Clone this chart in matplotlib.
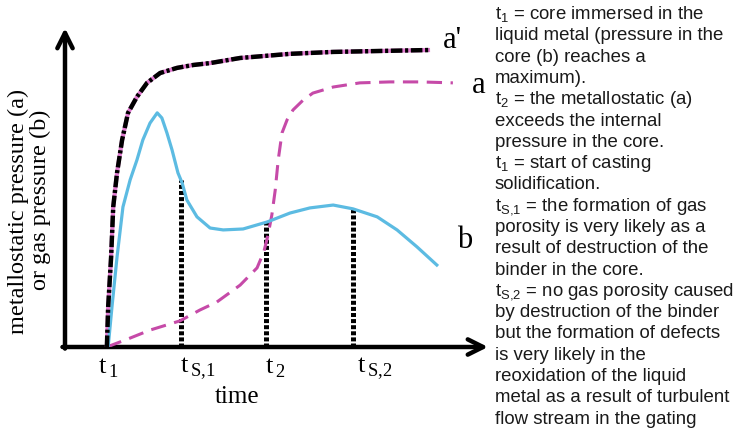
import matplotlib
matplotlib.use("Agg")
import matplotlib.pyplot as plt
import numpy as np

# ---- curve data (time, pressure) in arbitrary units ----
# a' : metallostatic pressure, reference curve
ap_t = [0.99, 1.02, 1.09, 1.14, 1.23, 1.35, 1.49, 1.70, 1.94, 2.25, 2.65,
        3.03, 3.43, 4.14, 5.32, 6.34, 7.45, 8.63]
ap_p = [0.00, 1.25, 2.82, 4.39, 5.46, 6.49, 7.34, 7.84, 8.28, 8.59, 8.75,
        8.84, 8.90, 9.06, 9.19, 9.25, 9.28, 9.31]

# a : metallostatic pressure
a_t = [0.99, 1.54, 2.01, 2.72, 3.19, 3.59, 4.14, 4.54, 4.70, 4.80, 4.89,
       4.97, 5.04, 5.13, 5.25, 5.39, 5.63, 5.86, 6.34, 6.97, 7.68, 8.39,
       9.17]
a_p = [0.00, 0.28, 0.53, 0.82, 1.16, 1.41, 1.94, 2.48, 2.98, 3.51, 4.14,
       4.92, 5.86, 6.71, 7.12, 7.43, 7.74, 7.96, 8.15, 8.28, 8.31, 8.31,
       8.28]

# b : gas pressure in the core
b_t = [1.02, 1.11, 1.23, 1.37, 1.54, 1.70, 1.84, 2.01, 2.18, 2.29, 2.41,
       2.53, 2.67, 2.77, 2.88, 3.12, 3.43, 3.74, 4.21, 4.78, 5.32, 5.79,
       6.34, 6.81, 7.38, 7.85, 8.32, 8.79]
b_p = [0.00, 1.25, 2.82, 4.39, 5.24, 5.86, 6.49, 7.02, 7.34, 7.18, 6.71,
       6.18, 5.46, 5.14, 4.61, 4.08, 3.73, 3.67, 3.70, 3.92, 4.20, 4.36,
       4.45, 4.33, 4.08, 3.67, 3.14, 2.57]

# characteristic instants on the time axis
mark_t = [1.00, 2.74, 4.75, 6.81]
mark_labels = [r"$\mathregular{t}_{\mathregular{\,1}}$",
               r"$\mathregular{t}_{\mathregular{\,S{,}1}}$",
               r"$\mathregular{t}_{\mathregular{\,2}}$",
               r"$\mathregular{t}_{\mathregular{\,S{,}2}}$"]
# which instants get a dotted drop line
drop_t = [2.74, 4.75, 6.81]

curve_labels = ["a'", "a", "b"]

notes = [
    r"$\mathregular{t_1}$ = core immersed in the",
    "liquid metal (pressure in the",
    "core (b) reaches a",
    "maximum).",
    r"$\mathregular{t_2}$ = the metallostatic (a)",
    "exceeds the internal",
    "pressure in the core.",
    r"$\mathregular{t_1}$ = start of casting",
    "solidification.",
    r"$\mathregular{t_{S{,}1}}$ = the formation of gas",
    "porosity is very likely as a",
    "result of destruction of the",
    "binder in the core.",
    r"$\mathregular{t_{S{,}2}}$ = no gas porosity caused",
    "by destruction of the binder",
    "but the formation of defects",
    "is very likely in the",
    "reoxidation of the liquid",
    "metal as a result of turbulent",
    "flow stream in the gating",
]

# ---- styling ----
SERIF = "Liberation Serif"
SANS = "Liberation Sans"
BLUE = "#5cbbe2"
MAGENTA = "#c64aa8"
PINK = "#e07ad0"
PX = 0.72  # points per pixel at 100 dpi

fig = plt.figure(figsize=(7.42, 4.34), dpi=100)
ax = fig.add_axes([65 / 742, 87 / 434, 423 / 742, 319 / 434])
ax.set_xlim(0, 10)
ax.set_ylim(0, 10)
for s in ax.spines.values():
    s.set_visible(False)
ax.set_xticks([])
ax.set_yticks([])
ax.patch.set_alpha(0)

# axes drawn as arrows
arrow_kw = dict(arrowstyle="->,head_length=1.1,head_width=0.55", lw=3.2,
                color="black", shrinkA=0, shrinkB=0)
ax.annotate("", xy=(0, 1.0), xytext=(0, -0.005), xycoords="axes fraction",
            arrowprops=arrow_kw, annotation_clip=False)
ax.annotate("", xy=(1.0, 0), xytext=(-0.006, 0), xycoords="axes fraction",
            arrowprops=arrow_kw, annotation_clip=False)

# dotted drop lines from curve b down to the time axis
drop_top = np.interp(drop_t, b_t, b_p)
ax.vlines(drop_t, 0, drop_top, colors="black", lw=3.6,
          linestyles=[(0, (0.8, 0.42))], zorder=2)

# a' : pink core with black dash-dot on top
ax.plot(ap_t, ap_p, color=PINK, lw=3.0, solid_capstyle="butt",
        solid_joinstyle="round", zorder=3)
ax.plot(ap_t, ap_p, color="black", lw=3.2, linestyle=(0, (2.6, 0.6, 0.7, 0.6)),
        dash_joinstyle="round", zorder=4)
# a : dashed magenta
ax.plot(a_t, a_p, color=MAGENTA, lw=2.2, linestyle=(0, (5.0, 2.8)),
        dash_joinstyle="round", zorder=3)
# b : light blue
ax.plot(b_t, b_p, color=BLUE, lw=2.3, solid_joinstyle="round", zorder=3)

# curve end labels
ends = [(ap_t[-1], ap_p[-1]), (a_t[-1], a_p[-1]), (b_t[-1], b_p[-1])]
end_offsets = [(13, 2), (19, -10), (20, 17)]
for lab, (x, y), (dx, dy) in zip(curve_labels, ends, end_offsets):
    ax.annotate(lab, xy=(x, y), xytext=(dx * PX, dy * PX),
                textcoords="offset points", ha="left", va="baseline",
                family=SERIF, size=22, annotation_clip=False)

# time-axis labels
label_offsets = [-9, -1, -1, 4]
for t, lab, dx in zip(mark_t, mark_labels, label_offsets):
    ax.annotate(lab, xy=(t, 0), xytext=(dx * PX, -26 * PX),
                textcoords="offset points", ha="left", va="baseline",
                family=SERIF, size=19, annotation_clip=False)

ax.text(0.407, -0.176, "time", transform=ax.transAxes, ha="center",
        va="baseline", family=SERIF, size=18)

# vertical axis title, two centred lines
ax.text(-0.111, 0.426, "metallostatic pressure (a)", transform=ax.transAxes,
        rotation=90, ha="center", va="center", family=SERIF, size=17.5)
ax.text(-0.057, 0.461, "or gas pressure (b)", transform=ax.transAxes,
        rotation=90, ha="center", va="center", family=SERIF, size=17.5)

# explanatory notes on the right
for i, line in enumerate(notes):
    fig.text(495 / 742, 1 - (19 + i * 21.3) / 434, line, ha="left",
             va="baseline", family=SANS, size=13.4, color="#1a1a1a")

fig.savefig("out.png", dpi=100)
